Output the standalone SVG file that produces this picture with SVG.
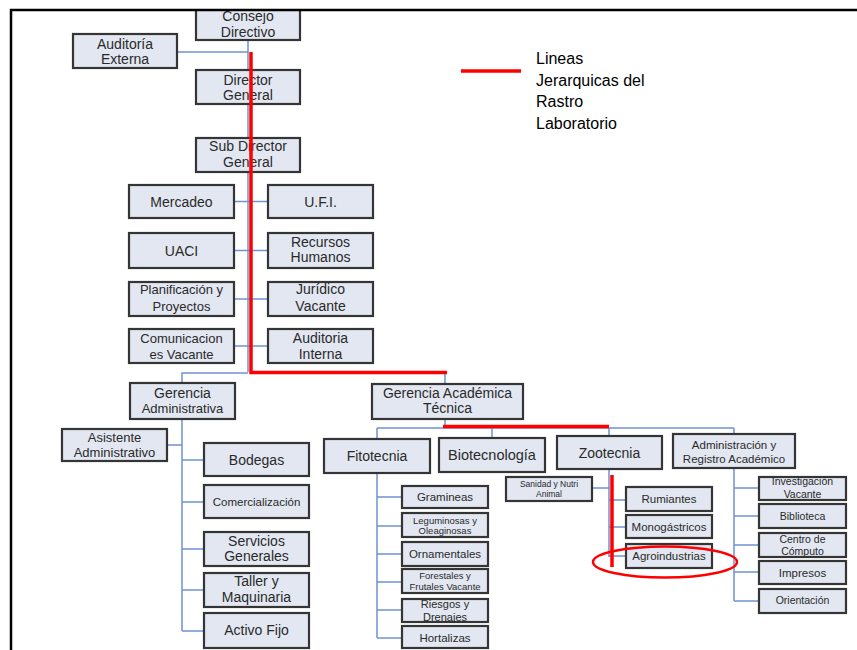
<svg xmlns="http://www.w3.org/2000/svg" width="857" height="650" viewBox="0 0 857 650">
  <style>
    .b { fill: #e2e7f1; stroke: #353535; stroke-width: 2.2; }
    .t { font-family: "Liberation Sans", Arial, sans-serif; fill: #2a2a2a; text-anchor: middle; font-size: 14px; }
    .m { font-size: 13px; }
    .s { font-size: 11.5px; }
    .xs { font-size: 9.5px; }
    .c { fill: none; stroke: #6f93cf; stroke-width: 1.5; }
    .r { fill: none; stroke: #ff0000; stroke-width: 3.5; }
    .lg { font-family: "Liberation Sans", Arial, sans-serif; font-size: 16px; fill: #000; }
  </style>

  <rect width="857" height="650" fill="#fff"/>

  <!-- blue organisational connectors -->
  <g id="connectors">
    <path class="c" d="M248 40 V372 M177 52 H248"/>
    <path class="c" d="M234 201.5 H248 M248 201.5 H268 M234 250.5 H248 M248 250.5 H268 M234 299 H248 M248 299 H268 M234 346 H248 M248 346 H268"/>
    <path class="c" d="M182 383 V373 H248 M445 373 V384"/>
    <path class="c" d="M445 419 V428 M377 428 H734 M377 428 V439 M492 428 V438 M609 428 V436 M734 428 V434"/>
    <path class="c" d="M182 419 V631 M167 445 H182 M182 460 H204 M182 502 H204 M182 549 H204 M182 590 H204 M182 631 H204"/>
    <path class="c" d="M377 473 V638 M377 497 H402 M377 526 H402 M377 554 H402 M377 582 H402 M377 610 H402 M377 638 H402"/>
    <path class="c" d="M609 469 V557 M592 488 H609 M609 500 H626 M609 527 H626 M609 556 H626"/>
    <path class="c" d="M734 468 V601 M734 488 H759 M734 516 H759 M734 545 H759 M734 572 H759 M734 601 H759"/>
  </g>

  <g id="consejo"><rect class="b" x="196" y="0" width="104" height="40"/><text class="t" x="248" y="21">Consejo</text><text class="t" x="248" y="37">Directivo</text></g>
  <g id="auditoria-externa"><rect class="b" x="73" y="34" width="104" height="34"/><text class="t" x="125" y="48.5">Auditoría</text><text class="t" x="125" y="64">Externa</text></g>
  <g id="director"><rect class="b" x="196" y="70" width="104" height="34"/><text class="t" x="248" y="84.5">Director</text><text class="t" x="248" y="100">General</text></g>
  <g id="subdirector"><rect class="b" x="196" y="138" width="104" height="34"/><text class="t" x="248" y="151">Sub Director</text><text class="t" x="248" y="167">General</text></g>

  <g id="mercadeo"><rect class="b" x="129" y="185" width="105" height="33"/><text class="t" x="181.5" y="206.5">Mercadeo</text></g>
  <g id="ufi"><rect class="b" x="268" y="185" width="105" height="33"/><text class="t" x="320.5" y="206.5">U.F.I.</text></g>
  <g id="uaci"><rect class="b" x="129" y="233" width="105" height="35"/><text class="t" x="181.5" y="255.5">UACI</text></g>
  <g id="rrhh"><rect class="b" x="268" y="233" width="105" height="35"/><text class="t" x="320.5" y="246.5">Recursos</text><text class="t" x="320.5" y="262">Humanos</text></g>
  <g id="planificacion"><rect class="b" x="129" y="282" width="105" height="34"/><text class="t m" x="181.5" y="294">Planificación y</text><text class="t m" x="181.5" y="311">Proyectos</text></g>
  <g id="juridico"><rect class="b" x="268" y="282" width="105" height="34"/><text class="t" x="320.5" y="294">Jurídico</text><text class="t" x="320.5" y="311">Vacante</text></g>
  <g id="comunicaciones"><rect class="b" x="129" y="329" width="105" height="34"/><text class="t m" x="181.5" y="343">Comunicacion</text><text class="t m" x="181.5" y="358.5">es Vacante</text></g>
  <g id="auditoria-interna"><rect class="b" x="268" y="329" width="105" height="34"/><text class="t" x="320.5" y="343">Auditoria</text><text class="t" x="320.5" y="358.5">Interna</text></g>

  <g id="gerencia-admin"><rect class="b" x="130" y="383" width="105" height="36"/><text class="t" x="182.5" y="397.5">Gerencia</text><text class="t m" x="182.5" y="413">Administrativa</text></g>
  <g id="gerencia-academica"><rect class="b" x="372" y="384" width="151" height="35"/><text class="t" x="447.5" y="397.5">Gerencia Académica</text><text class="t" x="447.5" y="413">Técnica</text></g>

  <g id="asistente"><rect class="b" x="62" y="429" width="105" height="32"/><text class="t m" x="114.5" y="441.5">Asistente</text><text class="t m" x="114.5" y="457">Administrativo</text></g>
  <g id="bodegas"><rect class="b" x="204" y="443" width="105" height="33"/><text class="t" x="256.5" y="464.5">Bodegas</text></g>
  <g id="comercializacion"><rect class="b" x="204" y="485" width="105" height="33"/><text class="t s" x="256.5" y="506">Comercialización</text></g>
  <g id="servicios"><rect class="b" x="204" y="532" width="105" height="34"/><text class="t" x="256.5" y="545.5">Servicios</text><text class="t" x="256.5" y="561">Generales</text></g>
  <g id="taller"><rect class="b" x="204" y="573" width="105" height="34"/><text class="t" x="256.5" y="586">Taller y</text><text class="t" x="256.5" y="601.5">Maquinaria</text></g>
  <g id="activo"><rect class="b" x="204" y="613" width="105" height="35"/><text class="t" x="256.5" y="635">Activo Fijo</text></g>

  <g id="fitotecnia"><rect class="b" x="324" y="439" width="106" height="34"/><text class="t" x="377" y="461">Fitotecnia</text></g>
  <g id="biotecnologia"><rect class="b" x="439" y="438" width="106" height="34"/><text class="t" x="492" y="460" style="font-size:14.5px">Biotecnología</text></g>
  <g id="zootecnia"><rect class="b" x="557" y="436" width="105" height="33"/><text class="t" x="609.5" y="457.5">Zootecnia</text></g>
  <g id="admin-registro"><rect class="b" x="673" y="434" width="122" height="34"/><text class="t s" x="734" y="449">Administración y</text><text class="t s" x="734" y="462.5">Registro Académico</text></g>

  <g id="gramineas"><rect class="b" x="402" y="486" width="86" height="22"/><text class="t s" x="445" y="501">Gramineas</text></g>
  <g id="leguminosas"><rect class="b" x="402" y="513" width="86" height="24"/><text class="t xs" x="445" y="523.5">Leguminosas y</text><text class="t xs" x="445" y="533.5">Oleaginosas</text></g>
  <g id="ornamentales"><rect class="b" x="402" y="542" width="86" height="24"/><text class="t s" x="445" y="558">Ornamentales</text></g>
  <g id="forestales"><rect class="b" x="402" y="569" width="86" height="24"/><text class="t xs" x="445" y="579">Forestales y</text><text class="t xs" x="445" y="589.5">Frutales Vacante</text></g>
  <g id="riesgos"><rect class="b" x="402" y="599" width="86" height="23"/><text class="t" x="445" y="608" style="font-size:11px">Riesgos y</text><text class="t" x="445" y="620.5" style="font-size:11px">Drenajes</text></g>
  <g id="hortalizas"><rect class="b" x="402" y="626" width="86" height="22"/><text class="t s" x="445" y="641.5">Hortalizas</text></g>

  <g id="sanidad"><rect class="b" x="506" y="477" width="86" height="24"/><text class="t" x="549" y="486.5" style="font-size:8.5px">Sanidad y Nutri</text><text class="t" x="549" y="496.5" style="font-size:8.5px">Animal</text></g>
  <g id="rumiantes"><rect class="b" x="626" y="487" width="86" height="24"/><text class="t s" x="669" y="503">Rumiantes</text></g>
  <g id="monogastricos"><rect class="b" x="626" y="515" width="86" height="23"/><text class="t s" x="669" y="530.5">Monogástricos</text></g>
  <g id="agroindustrias"><rect class="b" x="626" y="544" width="86" height="24"/><text class="t s" x="669" y="560">Agroindustrias</text></g>

  <g id="investigacion"><rect class="b" x="759" y="477" width="87" height="23"/><text class="t" x="802.5" y="485" style="font-size:10.5px">Investigación</text><text class="t" x="802.5" y="498" style="font-size:10.5px">Vacante</text></g>
  <g id="biblioteca"><rect class="b" x="759" y="504" width="87" height="24"/><text class="t" x="802.5" y="520" style="font-size:10.5px">Biblioteca</text></g>
  <g id="computo"><rect class="b" x="759" y="533" width="87" height="24"/><text class="t" x="802.5" y="543" style="font-size:10.5px">Centro de</text><text class="t" x="802.5" y="555" style="font-size:10.5px">Cómputo</text></g>
  <g id="impresos"><rect class="b" x="759" y="561" width="87" height="23"/><text class="t s" x="802.5" y="577">Impresos</text></g>
  <g id="orientacion"><rect class="b" x="759" y="589" width="87" height="24"/><text class="t" x="802.5" y="604" style="font-size:10.5px">Orientación</text></g>

  <!-- red hierarchy trace -->
  <g id="trace">
    <path class="r" d="M251 52 V372.5 H447"/>
    <path class="r" d="M443 426.5 H609"/>
    <path class="r" d="M612 475 V567"/>
    <ellipse cx="665" cy="562" rx="72" ry="15.5" fill="none" stroke="#ff0000" stroke-width="2.5"/>
  </g>

  <!-- legend -->
  <g id="legend">
    <path class="r" d="M461 71 H521" stroke-width="3"/>
    <text class="lg" x="536" y="64">Lineas</text>
    <text class="lg" x="536" y="86">Jerarquicas del</text>
    <text class="lg" x="536" y="107">Rastro</text>
    <text class="lg" x="536" y="129">Laboratorio</text>
  </g>

  <!-- frame -->
  <rect x="0" y="0" width="857" height="9" fill="#fff"/>
  <path d="M11 650 V10 H857" fill="none" stroke="#000" stroke-width="2.5"/>
</svg>
